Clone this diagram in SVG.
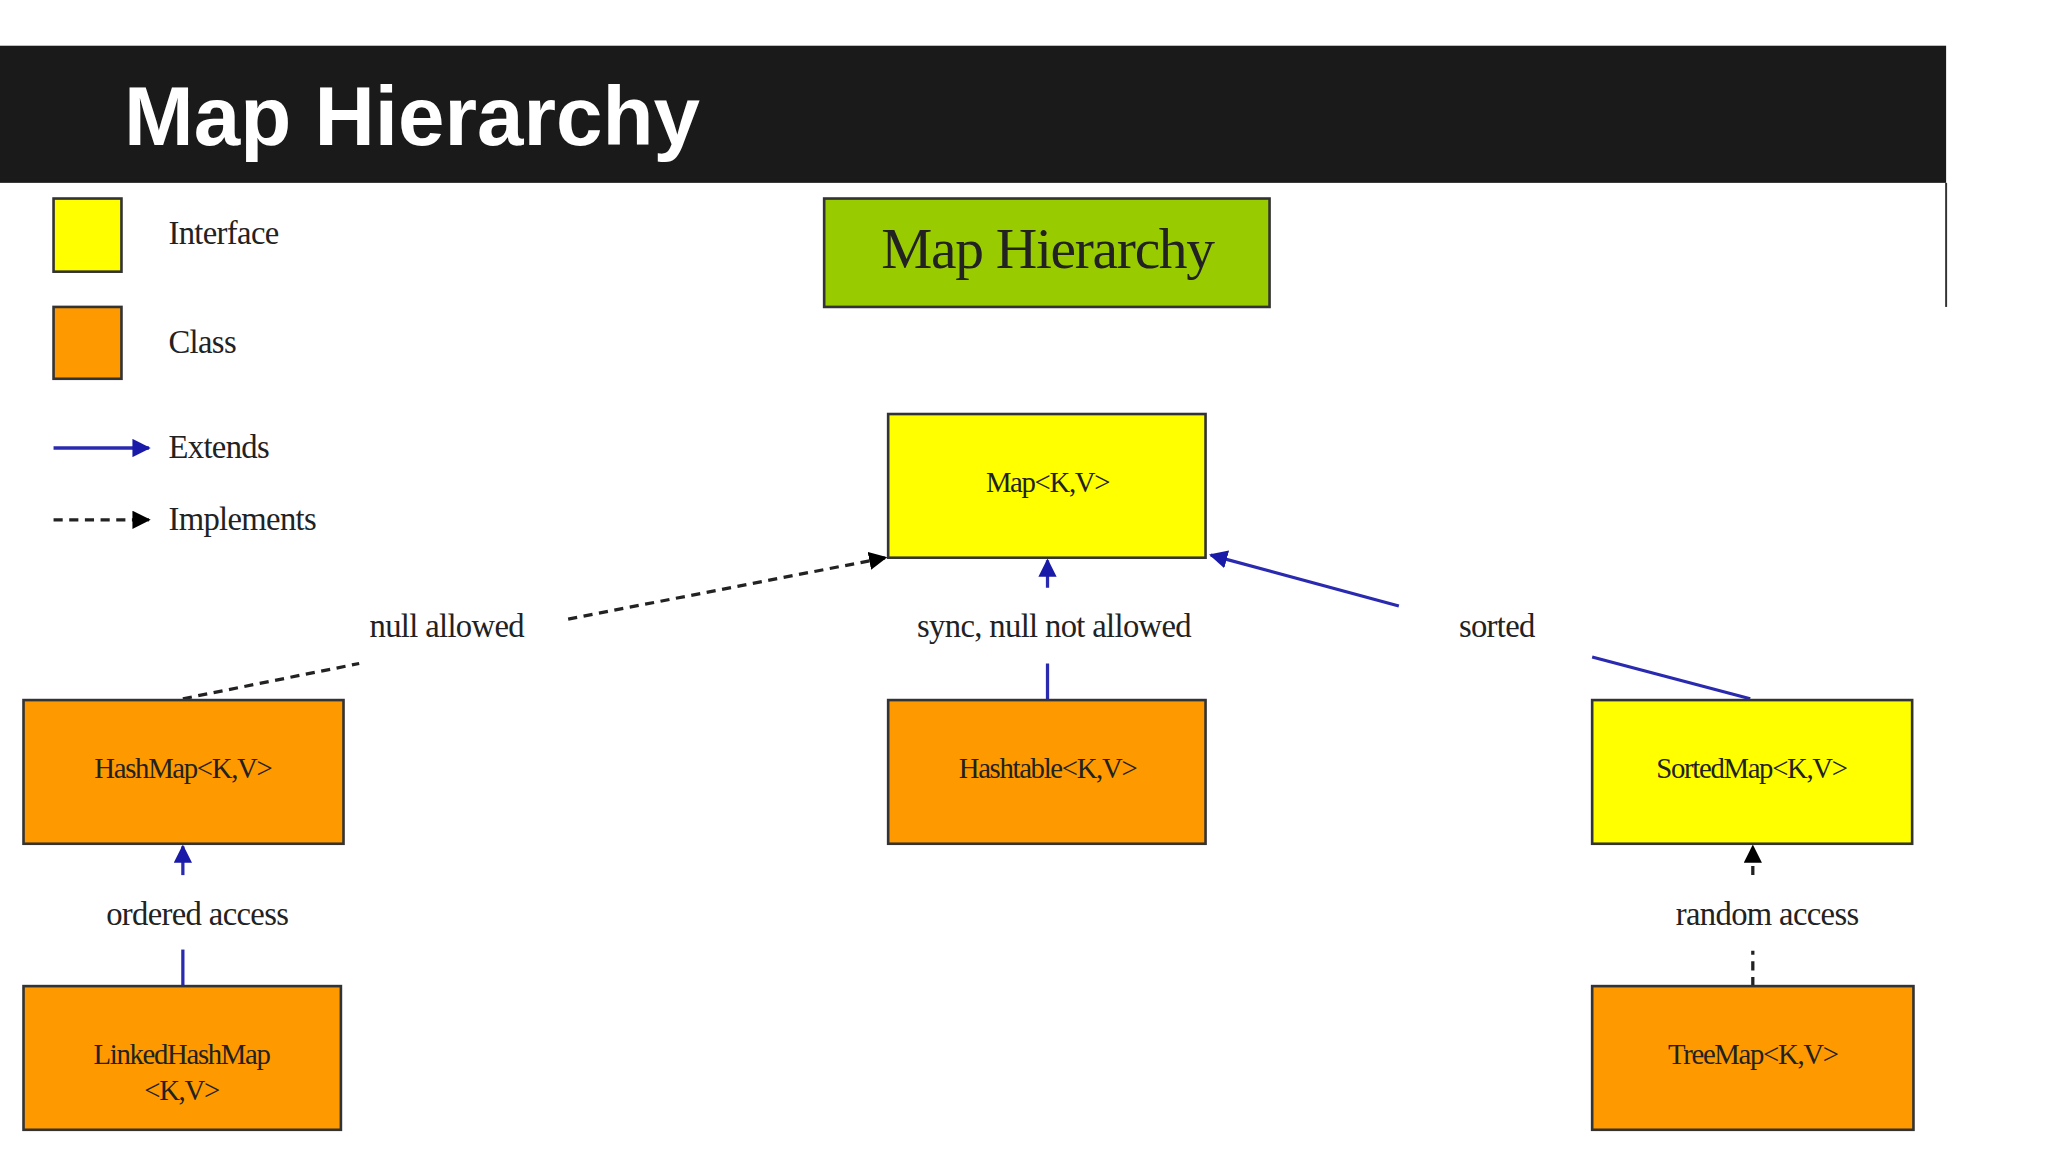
<svg xmlns="http://www.w3.org/2000/svg" width="2048" height="1152" viewBox="0 0 2048 1152">
<defs>
<marker id="ab" viewBox="0 0 10 10" refX="9" refY="5" markerWidth="14" markerHeight="14" markerUnits="userSpaceOnUse" orient="auto"><path d="M0,0L10,5L0,10z" fill="#1a1aa8"/></marker>
<marker id="ak" viewBox="0 0 10 10" refX="9" refY="5" markerWidth="14" markerHeight="14" markerUnits="userSpaceOnUse" orient="auto"><path d="M0,0L10,5L0,10z" fill="#000"/></marker>
</defs>
<style>
.t{font-family:"Liberation Serif",serif;fill:#222;text-anchor:middle}
.bx{font-size:22px;letter-spacing:-1px}
.lb{font-size:25px;letter-spacing:-0.5px}
.if{fill:#ffff00;stroke:#333;stroke-width:2}
.cl{fill:#ff9900;stroke:#333;stroke-width:2}
.ext{stroke:#2a2ab0;stroke-width:2.5;fill:none}
.imp{stroke:#222;stroke-width:2.5;fill:none;stroke-dasharray:7,5}
</style>
<rect width="2048" height="1152" fill="#fff"/>
<g transform="scale(1.30612)">
<g id="header">
<rect x="0" y="35" width="1490" height="105" fill="#1a1a1a"/>
<text x="95" y="111" font-family="Liberation Sans,Arial,sans-serif" font-weight="bold" font-size="64" fill="#fff">Map Hierarchy</text>
<line x1="1490" y1="140" x2="1490" y2="235" stroke="#333" stroke-width="1.5"/>
</g>
<g id="legend">
<rect x="41" y="152" width="52" height="56" class="if"/>
<rect x="41" y="235" width="52" height="55" class="cl"/>
<text x="129" y="187" class="t lb" text-anchor="start" style="text-anchor:start">Interface</text>
<text x="129" y="270" class="t lb" style="text-anchor:start">Class</text>
<line x1="41" y1="343" x2="114" y2="343" class="ext" marker-end="url(#ab)"/>
<text x="129" y="351" class="t lb" style="text-anchor:start">Extends</text>
<line x1="41" y1="398" x2="114" y2="398" class="imp" marker-end="url(#ak)"/>
<text x="129" y="406" class="t lb" style="text-anchor:start">Implements</text>
</g>
<g id="title2">
<rect x="631" y="152" width="341" height="83" fill="#99cc00" stroke="#333" stroke-width="2"/>
<text x="802" y="205" class="t" font-size="44" letter-spacing="-1">Map Hierarchy</text>
</g>
<g id="connectors">
<line x1="140" y1="535" x2="275" y2="508" class="imp"/>
<line x1="435" y1="474" x2="678" y2="427" class="imp" marker-end="url(#ak)"/>
<line x1="802" y1="536" x2="802" y2="508" class="ext"/>
<line x1="802" y1="450" x2="802" y2="429" class="ext" marker-end="url(#ab)"/>
<line x1="1340" y1="535" x2="1219" y2="503" class="ext"/>
<line x1="1071" y1="464" x2="927" y2="425" class="ext" marker-end="url(#ab)"/>
<line x1="140" y1="755" x2="140" y2="727" class="ext"/>
<line x1="140" y1="670" x2="140" y2="648" class="ext" marker-end="url(#ab)"/>
<line x1="1342" y1="755" x2="1342" y2="728" class="imp"/>
<line x1="1342" y1="670" x2="1342" y2="648" class="imp" marker-end="url(#ak)"/>
<text x="342" y="488" class="t lb">null allowed</text>
<text x="807" y="488" class="t lb">sync, null not allowed</text>
<text x="1146" y="488" class="t lb">sorted</text>
<text x="151" y="708" class="t lb">ordered access</text>
<text x="1353" y="708" class="t lb">random access</text>
</g>
<g id="map"><rect x="680" y="317" width="243" height="110" class="if"/><text x="802" y="377" class="t bx">Map&lt;K,V&gt;</text></g>
<g id="hashmap"><rect x="18" y="536" width="245" height="110" class="cl"/><text x="140" y="596" class="t bx">HashMap&lt;K,V&gt;</text></g>
<g id="hashtable"><rect x="680" y="536" width="243" height="110" class="cl"/><text x="802" y="596" class="t bx">Hashtable&lt;K,V&gt;</text></g>
<g id="sortedmap"><rect x="1219" y="536" width="245" height="110" class="if"/><text x="1341" y="596" class="t bx">SortedMap&lt;K,V&gt;</text></g>
<g id="linkedhashmap"><rect x="18" y="755" width="243" height="110" class="cl"/><text x="139" y="815" class="t bx">LinkedHashMap</text><text x="139" y="842" class="t bx">&lt;K,V&gt;</text></g>
<g id="treemap"><rect x="1219" y="755" width="246" height="110" class="cl"/><text x="1342" y="815" class="t bx">TreeMap&lt;K,V&gt;</text></g>
</g>
</svg>
